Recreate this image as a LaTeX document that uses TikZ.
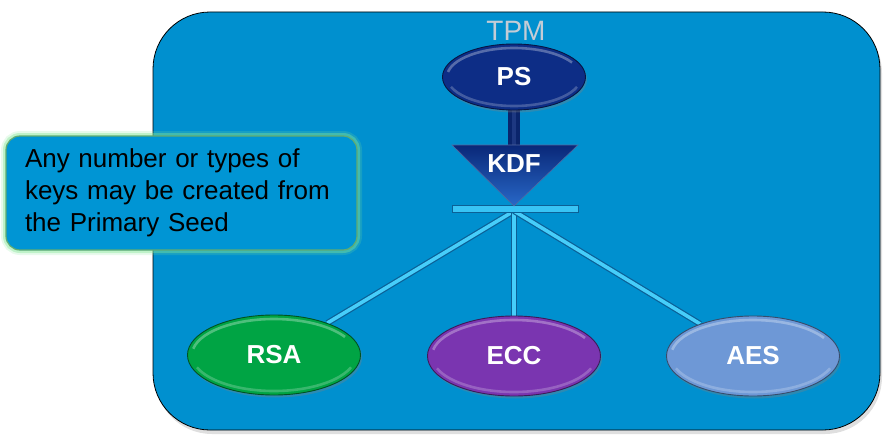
\documentclass[tikz,border=0pt]{standalone}
\usepackage{fontspec}
\setmainfont{Liberation Sans}
\usetikzlibrary{shapes.geometric,shadows,calc}
\definecolor{bgblue}{RGB}{0,144,207}
\definecolor{noteblue}{RGB}{0,149,212}
\definecolor{glowgreen}{RGB}{130,230,150}
\definecolor{tpmgray}{RGB}{196,204,214}
\definecolor{psblue}{RGB}{13,45,134}
\definecolor{kdftop}{RGB}{10,40,120}
\definecolor{kdfbot}{RGB}{40,104,200}
\definecolor{rsagreen}{RGB}{0,164,68}
\definecolor{eccpurple}{RGB}{122,53,176}
\definecolor{aesblue}{RGB}{110,152,214}
\definecolor{cyanlite}{RGB}{70,206,250}
\definecolor{cyandark}{RGB}{12,96,150}
\definecolor{barcyan}{RGB}{56,196,245}
\pgfdeclarelayer{bg}
\pgfsetlayers{bg,main}
\tikzset{
  keytext/.style={text=white, font=\bfseries\fontsize{26}{30}\selectfont},
  gloss/.style 2 args={path picture={
      \draw[white, opacity=0.3, line width=2.6pt]
        ([shift={(190:#1 and #2)}]path picture bounding box.center)
        arc[start angle=190, end angle=330, x radius=#1, y radius=#2];
      \draw[white, opacity=0.22, line width=2.6pt]
        ([shift={(20:#1 and #2)}]path picture bounding box.center)
        arc[start angle=20, end angle=160, x radius=#1, y radius=#2];}},
  keynode/.style={ellipse, inner sep=0pt, minimum width=173, minimum height=80,
    draw=#1!50!black, line width=0.9pt, fill=#1, keytext,
    drop shadow={shadow xshift=1.5pt, shadow yshift=-2.5pt, opacity=0.35},
    gloss={82}{36}},
  fanline/.style={draw=cyandark, line width=1.2pt, double=cyanlite, double distance=3.6pt},
  psbar/.style={draw=psblue!80!black, line width=12pt},
  psbarhi/.style={draw=psblue!85!white, line width=4pt, opacity=0.5},
  notebox/.style={rectangle, rounded corners=14pt, minimum width=351, minimum height=114,
    fill=noteblue, draw=glowgreen!75!black, line width=1.2pt,
    preaction={draw=glowgreen, line width=10pt, opacity=0.18},
    preaction={draw=glowgreen, line width=6pt, opacity=0.4},
    text=black, align=left, text width=313, inner sep=0pt,
    font=\fontsize{26}{31.8}\selectfont},
  tpmbox/.style={rectangle, rounded corners=57pt, minimum width=727, minimum height=418,
    fill=bgblue, draw=black, line width=0.8pt,
    drop shadow={shadow xshift=2pt, shadow yshift=-4pt, opacity=0.25}},
}
\begin{document}
\begin{tikzpicture}[x=1pt,y=-1pt]
\useasboundingbox (0,0) rectangle (884,436);
\begin{pgfonlayer}{bg}
  \node[tpmbox] (tpm) at (516.5,221) {};
\end{pgfonlayer}
\node[text=tpmgray, font=\fontsize{28}{32}\selectfont] (tpmlabel) at (516,31) {TPM};
% bar under KDF
\node[rectangle, minimum width=126, minimum height=7, inner sep=0pt, fill=barcyan,
  draw=cyandark, line width=0.9pt] (bar) at (515,209) {};
\coordinate (hub) at (514,211);
% KDF triangle
\coordinate (kdfl) at (452,145);
\coordinate (kdfr) at (578,145);
\coordinate (kdfapex) at (514,206);
\coordinate (kdfn) at (514,146);
\shade[top color=kdftop, bottom color=kdfbot, draw=kdftop!70!white, line width=0.6pt]
  (kdfl) -- (kdfr) -- (kdfapex) -- cycle;
\node[keytext] (kdf) at (514,164) {KDF};
% PS
\node[keynode=psblue, minimum width=143, minimum height=66, gloss={67}{29}] (ps) at (514,77) {PS};
% keys
\node[keynode=rsagreen] (rsa) at (274,355) {RSA};
\node[keynode=eccpurple] (ecc) at (514,356) {ECC};
\node[keynode=aesblue] (aes) at (753,356) {AES};
% connectors behind
\begin{pgfonlayer}{bg}
  \draw[psbar] (ps.south) -- (kdfn);
  \draw[psbarhi] (ps.south) -- (kdfn);
  \draw[fanline] (hub) -- (rsa);
  \draw[fanline] (hub) -- (ecc);
  \draw[fanline] (hub) -- (aes);
\end{pgfonlayer}
% callout
\node[notebox] (note) at (181.5,193) {Any number or types of\\keys may be created from\\the Primary Seed};
\end{tikzpicture}
\end{document}
